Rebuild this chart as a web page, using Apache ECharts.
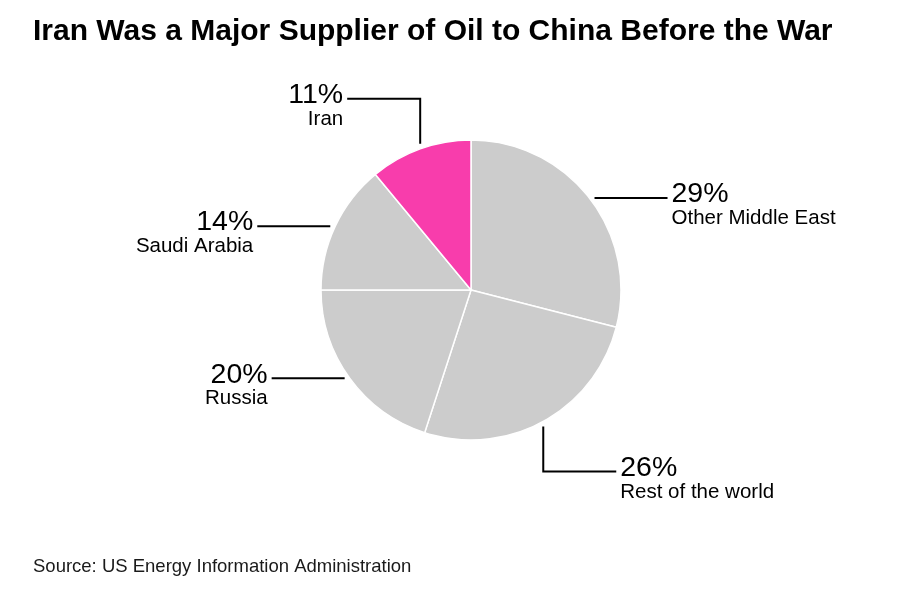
<!DOCTYPE html>
<html>
<head>
<meta charset="utf-8">
<script src="https://cdn.jsdelivr.net/npm/echarts@6/dist/echarts.min.js"></script>
<style>
html,body{margin:0;padding:0;background:#fff;}
#chart{width:897px;height:609px;}
</style>
</head>
<body>
<div id="chart"></div>
<script>
// ---- data ----
const categories = ['Other Middle East', 'Rest of the world', 'Russia', 'Saudi Arabia', 'Iran'];
const shares = [29, 26, 20, 14, 11];
const pctLabels = ['29%', '26%', '20%', '14%', '11%'];
const highlighted = ['Iran'];

// ---- layout / style ----
const CENTER = [471, 290];
const RADIUS = 150;
const leaderKind = ['h', 'v', 'h', 'h', 'v']; // horizontal-only or vertical-then-horizontal
const GAP = 5, VLEN = 45, HLEN = 73;
const GRAY = '#cccccc', PINK = '#f83dac';

const total = shares.reduce((a, b) => a + b, 0);
function midAngle(i) {
  let cum = 0;
  for (let k = 0; k < i; k++) cum += shares[k];
  const frac = (cum + shares[i] / 2) / total;
  return frac * 2 * Math.PI; // clockwise from 12 o'clock
}
function leader(i) {
  const a = midAngle(i);
  const ex = CENTER[0] + RADIUS * Math.sin(a);
  const ey = CENTER[1] - RADIUS * Math.cos(a);
  const side = Math.sin(a) >= 0 ? 1 : -1;
  let pts;
  if (leaderKind[i] === 'v') {
    const vs = Math.cos(a) >= 0 ? -1 : 1;
    const y0 = ey + vs * GAP, y1 = y0 + vs * VLEN;
    pts = [[ex, y0], [ex, y1], [ex + side * HLEN, y1]];
  } else {
    const x0 = ex + side * GAP;
    pts = [[x0, ey], [x0, ey], [x0 + side * HLEN, ey]];
  }
  return { pts, side };
}

const chart = echarts.init(document.getElementById('chart'), null, { renderer: 'canvas' });
const FONT = '"Liberation Sans", Arial, Helvetica, sans-serif';

chart.setOption({
  animation: false,
  backgroundColor: '#ffffff',
  title: [
    {
      text: 'Iran Was a Major Supplier of Oil to China Before the War',
      left: 28, top: 12,
      textStyle: { fontFamily: FONT, fontSize: 30, fontWeight: 'bold', color: '#000' }
    },
    {
      text: 'Source: US Energy Information Administration',
      left: 28, top: 552,
      textStyle: { fontFamily: FONT, fontSize: 18.5, fontWeight: 'normal', color: '#1a1a1a' }
    }
  ],
  series: [{
    type: 'pie',
    center: CENTER,
    radius: [0, RADIUS],
    startAngle: 90,
    clockwise: true,
    avoidLabelOverlap: false,
    itemStyle: { borderColor: '#ffffff', borderWidth: 1.5 },
    emphasis: { disabled: true },
    data: categories.map((c, i) => ({
      name: c,
      value: shares[i],
      itemStyle: { color: highlighted.includes(c) ? PINK : GRAY }
    })),
    label: {
      show: true,
      position: 'outside',
      color: '#000',
      fontFamily: FONT,
      formatter: p => '{p|' + pctLabels[p.dataIndex] + '}\n{n|' + p.name + '}',
      rich: {
        p: { fontFamily: FONT, fontSize: 28.5, lineHeight: 29, color: '#000' },
        n: { fontFamily: FONT, fontSize: 20.5, lineHeight: 19, color: '#000' }
      }
    },
    labelLine: {
      show: true,
      lineStyle: { color: '#000', width: 2 }
    },
    labelLayout: function (params) {
      const i = params.dataIndex;
      const L = leader(i);
      const end = L.pts[2];
      return {
        x: end[0] + L.side * 4,
        y: end[1] - 18,
        align: L.side > 0 ? 'left' : 'right',
        verticalAlign: 'top',
        labelLinePoints: L.pts
      };
    }
  }]
});
</script>
</body>
</html>
